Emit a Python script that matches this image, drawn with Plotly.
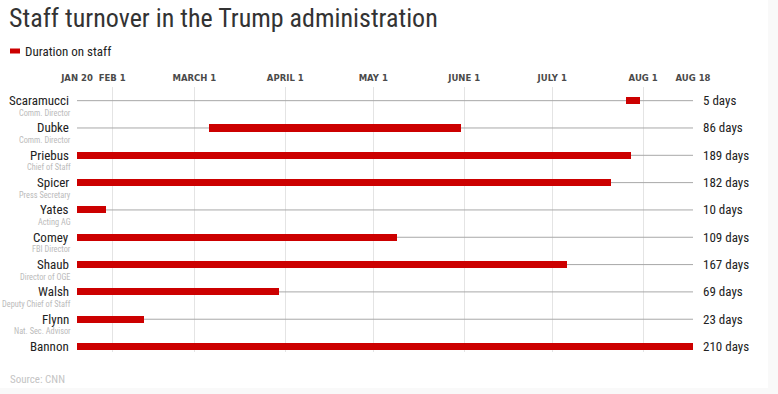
import datetime as dt
import plotly.graph_objects as go

# ---- data ----
names = ["Scaramucci", "Dubke", "Priebus", "Spicer", "Yates", "Comey",
         "Shaub", "Walsh", "Flynn", "Bannon"]
roles = ["Comm. Director", "Comm. Director", "Chief of Staff", "Press Secretary",
         "Acting AG", "FBI Director", "Director of OGE", "Deputy Chief of Staff",
         "Nat. Sec. Advisor", "Chief Strategist"]
start_dates = ["2017-07-26", "2017-03-06", "2017-01-20", "2017-01-20", "2017-01-20",
               "2017-01-20", "2017-01-20", "2017-01-20", "2017-01-20", "2017-01-20"]
durations = [5, 86, 189, 182, 10, 109, 167, 69, 23, 210]
tick_dates = ["2017-01-20", "2017-02-01", "2017-03-01", "2017-04-01", "2017-05-01",
              "2017-06-01", "2017-07-01", "2017-08-01", "2017-08-18"]
tick_labels = ["JAN 20", "FEB 1", "MARCH 1", "APRIL 1", "MAY 1",
               "JUNE 1", "JULY 1", "AUG 1", "AUG 18"]
origin = "2017-01-20"
end_date = "2017-08-18"

def day(s):
    return (dt.date.fromisoformat(s) - dt.date.fromisoformat(origin)).days

starts = [day(s) for s in start_dates]
tickvals = [day(s) for s in tick_dates]
xmax = day(end_date)
rows = list(range(len(names)))

W, H = 778, 394
L, R, T, B = 77, 85, 87, 42
pw = W - L - R
ph = H - T - B

NARROW = "Liberation Sans Narrow, Roboto Condensed, Roboto"

def px_x(p):
    return (p - L) / pw

def px_y(p):
    return 1 - (p - T) / ph

fig = go.Figure()

fig.add_trace(go.Bar(y=rows, x=durations, base=starts, orientation="h",
                     width=0.26, marker=dict(color="#cc0000", line=dict(width=0)),
                     showlegend=False, name="Duration on staff"))

ann = []
for r, n, ro, d in zip(rows, names, roles, durations):
    ann.append(dict(x=px_x(71), y=r, xref="paper", yref="y", text=n,
                    showarrow=False, xanchor="right", yanchor="middle",
                    font=dict(family=NARROW, size=13, color="#222")))
    ann.append(dict(x=px_x(73), y=r + 0.44, xref="paper", yref="y", text=ro,
                    showarrow=False, xanchor="right", yanchor="middle",
                    font=dict(family=NARROW, size=8.3, color="#bbbbbb")))
    ann.append(dict(x=px_x(701), y=r, xref="paper", yref="y", text=f"{d} days",
                    showarrow=False, xanchor="left", yanchor="middle",
                    font=dict(family=NARROW, size=13, color="#222")))

ann.append(dict(x=px_x(7), y=px_y(18), xref="paper", yref="paper",
                text="Staff turnover in the Trump administration", showarrow=False,
                xanchor="left", yanchor="middle",
                font=dict(family=NARROW, size=26, color="#333")))
ann.append(dict(x=px_x(23), y=px_y(51), xref="paper", yref="paper",
                text="Duration on staff", showarrow=False,
                xanchor="left", yanchor="middle",
                font=dict(family=NARROW, size=13, color="#222")))
ann.append(dict(x=px_x(8), y=px_y(379), xref="paper", yref="paper",
                text="Source: CNN", showarrow=False,
                xanchor="left", yanchor="middle",
                font=dict(family=NARROW, size=11, color="#c4c4c4")))

shapes = [
    dict(type="rect", xref="paper", yref="paper", x0=px_x(0), x1=px_x(768),
         y0=px_y(0), y1=px_y(388), fillcolor="white", line=dict(width=0), layer="below"),
    dict(type="rect", xref="paper", yref="paper", x0=px_x(10), x1=px_x(20),
         y0=px_y(48.5), y1=px_y(53.5), fillcolor="#cc0000", line=dict(width=0)),
]
for r in rows:
    shapes.append(dict(type="line", xref="x", yref="y", x0=0, x1=xmax, y0=r, y1=r,
                       line=dict(color="#a8a8a8", width=1), layer="between"))

fig.update_layout(
    width=W, height=H,
    margin=dict(l=L, r=R, t=T, b=B, autoexpand=False),
    paper_bgcolor="#f9f9f9", plot_bgcolor="rgba(0,0,0,0)",
    annotations=ann, shapes=shapes,
    bargap=0,
    xaxis=dict(range=[0, xmax], side="top", tickvals=tickvals, ticktext=tick_labels,
               showgrid=True, gridcolor="#e4e4e4", gridwidth=1, zeroline=False,
               showline=False, ticks="", ticklabelstandoff=3, automargin=False,
               tickfont=dict(family="DejaVu Sans", size=8.5, color="#4a4a4a", weight="bold"),
               fixedrange=True),
    yaxis=dict(range=[9.2, -0.5], showgrid=False, zeroline=False, showticklabels=False,
               showline=False, ticks="", fixedrange=True, automargin=False),
)

fig.write_html("out.html", config={"displayModeBar": False},
               post_script="document.body.style.margin='0';document.body.style.background='#f9f9f9';")
